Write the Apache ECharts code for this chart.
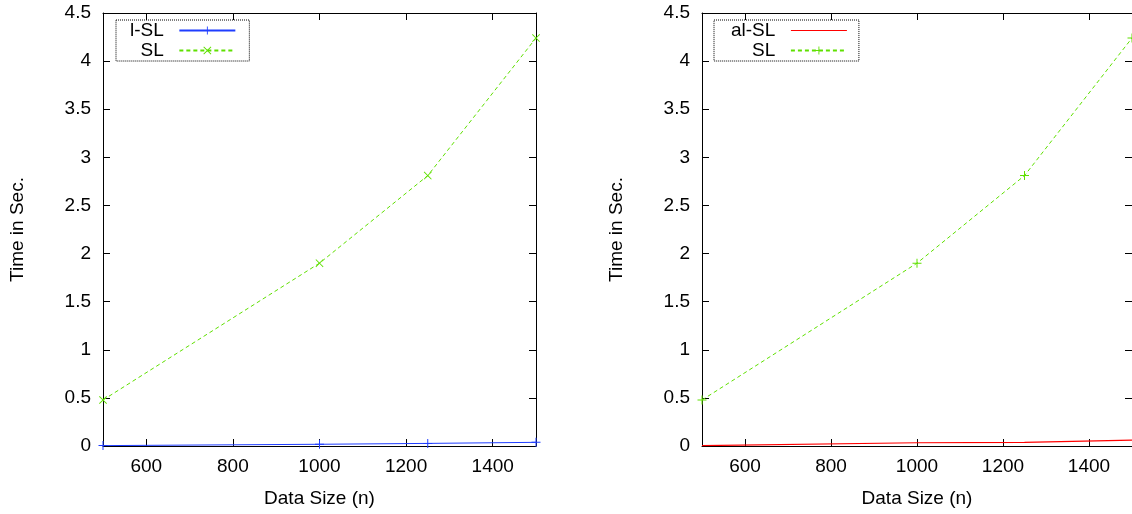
<!DOCTYPE html>
<html><head><meta charset="utf-8">
<script src="https://cdn.jsdelivr.net/npm/echarts@6/dist/echarts.min.js"></script>
<style>html,body{margin:0;padding:0;background:#fff}#c{width:1132px;height:514px}</style>
</head><body><div id="c"></div>
<script>
// ---- data ----
const dataSizes = [500, 1000, 1250, 1500];
const lslTimes  = [0.004, 0.018, 0.027, 0.038];   // left chart, blue
const slTimes   = [0.478, 1.90, 2.81, 4.24];      // both charts, green dashed
const alslTimes = [0.004, 0.034, 0.038, 0.062];   // right chart, red
const xTickValues = [600, 800, 1000, 1200, 1400];
const yMin = 0, yMax = 4.5, yStep = 0.5;
const xMin = 500, xMax = 1500;
const xName = 'Data Size (n)';
const yName = 'Time in Sec.';

const FONT = 'Liberation Sans, Arial, Helvetica, sans-serif';
const FS = 19;
const BLUE = '#1f3dff', GREEN = '#5fe000', RED = '#ff0000';
const PLUS = 'path://M0,4.45H10V5.55H0Z M4.45,0H5.55V10H4.45Z';
const CROSS = 'path://M0.8,0L5,4.2L9.2,0L10,0.8L5.8,5L10,9.2L9.2,10L5,5.8L0.8,10L0,9.2L4.2,5L0,0.8Z';
const LINE_ICON = 'path://M0,4.4H56V5.6H0Z';

const pairs = arr => dataSizes.map((x, i) => [x, arr[i]]);

const axisLineStyle = { show: true, onZero: false, lineStyle: { color: '#000', width: 1 } };
const tickStyle = { show: true, inside: true, length: 7, lineStyle: { color: '#000', width: 1 } };
const labelStyle = { color: '#000', fontSize: FS, fontFamily: FONT };

function xAxes(gi) {
  return [
    { type: 'value', gridIndex: gi, position: 'bottom', min: xMin, max: xMax,
      axisLine: axisLineStyle, splitLine: { show: false },
      axisTick: Object.assign({ customValues: xTickValues }, tickStyle),
      axisLabel: Object.assign({ customValues: xTickValues, margin: 11, formatter: v => String(v) }, labelStyle),
      name: xName, nameLocation: 'middle', nameGap: 43,
      nameTextStyle: { color: '#000', fontSize: FS, fontFamily: FONT } },
    { type: 'value', gridIndex: gi, position: 'top', min: xMin, max: xMax,
      axisLine: axisLineStyle, splitLine: { show: false },
      axisTick: Object.assign({ customValues: xTickValues }, tickStyle),
      axisLabel: { show: false } }
  ];
}
function yAxes(gi) {
  return [
    { type: 'value', gridIndex: gi, position: 'left', min: yMin, max: yMax, interval: yStep,
      axisLine: axisLineStyle, splitLine: { show: false }, axisTick: tickStyle,
      axisLabel: Object.assign({ margin: 12 }, labelStyle),
      name: yName, nameLocation: 'middle', nameRotate: 90, nameGap: 76,
      nameTextStyle: { color: '#000', fontSize: FS, fontFamily: FONT } },
    { type: 'value', gridIndex: gi, position: 'right', min: yMin, max: yMax, interval: yStep,
      axisLine: axisLineStyle, splitLine: { show: false }, axisTick: tickStyle,
      axisLabel: { show: false } }
  ];
}

const dashed = [4, 3];
const legendBase = {
  orient: 'vertical', align: 'right', top: 20,
  itemWidth: 56, itemHeight: 10, itemGap: 1,
  borderColor: '#000', borderWidth: 1, borderType: 'dotted',
  formatter: n => n.trim() + '  ',
  textStyle: { color: '#000', fontSize: FS, fontFamily: FONT }
};
const option = {
  animation: false,
  backgroundColor: '#fff',
  grid: [
    { left: 103, top: 13, width: 433, height: 433 },
    { left: 702, top: 13, width: 433, height: 433 }
  ],
  xAxis: [...xAxes(0), ...xAxes(1)],
  yAxis: [...yAxes(0), ...yAxes(1)],
  legend: [
    Object.assign({}, legendBase, { data: ['l-SL', 'SL'], left: 116, padding: [1, 13, 1, 14] }),
    Object.assign({}, legendBase, { data: [{ name: 'al-SL', icon: LINE_ICON }, 'SL '], left: 714, padding: [1, 11, 1, 17] })
  ],
  series: [
    { name: 'l-SL', type: 'line', xAxisIndex: 0, yAxisIndex: 0, data: pairs(lslTimes),
      symbol: PLUS, symbolSize: 9, showAllSymbol: true,
      lineStyle: { color: BLUE, width: 1 }, itemStyle: { color: BLUE } },
    { name: 'SL', type: 'line', xAxisIndex: 0, yAxisIndex: 0, data: pairs(slTimes),
      symbol: CROSS, symbolSize: 8, showAllSymbol: true,
      lineStyle: { color: GREEN, width: 1, type: dashed }, itemStyle: { color: GREEN } },
    { name: 'al-SL', type: 'line', xAxisIndex: 2, yAxisIndex: 2, data: pairs(alslTimes),
      symbol: 'none',
      lineStyle: { color: RED, width: 1.2 }, itemStyle: { color: RED } },
    { name: 'SL ', type: 'line', xAxisIndex: 2, yAxisIndex: 2, data: pairs(slTimes),
      symbol: PLUS, symbolSize: 9, showAllSymbol: true,
      lineStyle: { color: GREEN, width: 1, type: dashed }, itemStyle: { color: GREEN } }
  ]
};
const chart = echarts.init(document.getElementById('c'), null, { renderer: 'canvas' });
chart.setOption(option);
</script>
</body></html>
